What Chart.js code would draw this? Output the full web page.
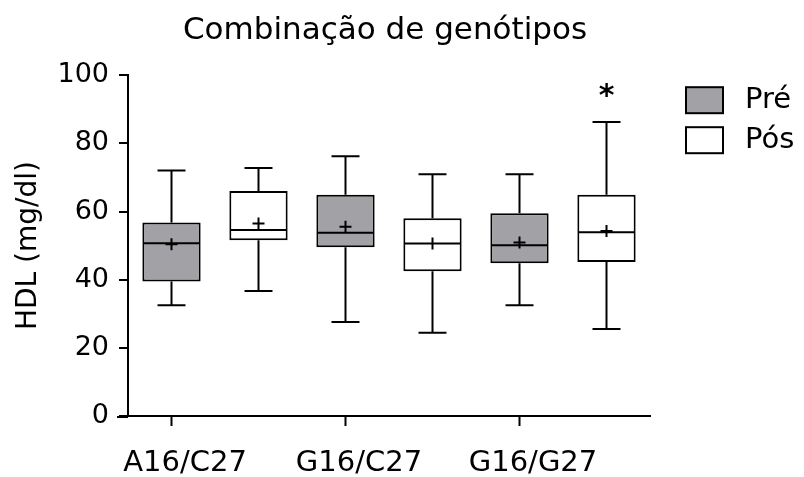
<!DOCTYPE html>
<html>
<head>
<meta charset="utf-8">
<title>Combinação de genótipos</title>
<script src="https://cdn.jsdelivr.net/npm/chart.js@4/dist/chart.umd.min.js"></script>
<style>
  html, body { margin: 0; padding: 0; background: #fff; }
  #wrap { width: 804px; height: 477px; }
</style>
</head>
<body>
<div id="wrap"><canvas id="chart" width="804" height="477"></canvas></div>
<script>
const categories = ['A16/C27', 'G16/C27', 'G16/G27'];

// Pré
const preMin = [32.5, 27.6, 32.5];
const preQ1 = [39.5, 49.5, 44.8];
const preMedian = [50.7, 53.8, 50.1];
const preQ3 = [56.8, 64.9, 59.5];
const preMax = [72.0, 76.2, 70.9];
const preMean = [50.4, 55.5, 50.9];

// Pós
const posMin = [36.7, 24.4, 25.5];
const posQ1 = [51.6, 42.5, 45.2];
const posMedian = [54.6, 50.6, 53.9];
const posQ3 = [66.0, 58.0, 64.9];
const posMax = [72.8, 70.9, 86.3];
const posMean = [56.5, 50.6, 54.3];

// significance mark above G16/G27 Pós
const starLabel = '*';
const starValue = 95;
const starIndex = 2;

const yMin = 0, yMax = 100, yStep = 20;

const FONT = 'DejaVu Sans';
const GREY = '#a2a2a6';

const boxes = (q1, q3) => q1.map((v, i) => [v, q3[i]]);

// whiskers, medians, means, x ticks, star and legend
const boxPlugin = {
  id: 'boxPlot',
  afterDatasetsDraw(chart) {
    const ctx = chart.ctx;
    const y = chart.scales.y;
    const area = chart.chartArea;
    ctx.save();
    ctx.strokeStyle = '#000';
    ctx.lineWidth = 2;
    chart.data.datasets.forEach((ds, di) => {
      const meta = chart.getDatasetMeta(di);
      meta.data.forEach((bar, i) => {
        const { x, width } = bar.getProps(['x', 'width'], true);
        const half = width / 2;
        const cap = width * 0.24;
        const st = ds.stats;
        const yq1 = y.getPixelForValue(ds.data[i][0]);
        const yq3 = y.getPixelForValue(ds.data[i][1]);
        const ymin = y.getPixelForValue(st.min[i]);
        const ymax = y.getPixelForValue(st.max[i]);
        const ymed = y.getPixelForValue(st.median[i]);
        const ymean = y.getPixelForValue(st.mean[i]);
        ctx.beginPath();
        // whiskers
        ctx.moveTo(x, yq3); ctx.lineTo(x, ymax);
        ctx.moveTo(x - cap, ymax); ctx.lineTo(x + cap, ymax);
        ctx.moveTo(x, yq1); ctx.lineTo(x, ymin);
        ctx.moveTo(x - cap, ymin); ctx.lineTo(x + cap, ymin);
        // median
        ctx.moveTo(x - half + 1, ymed); ctx.lineTo(x + half - 1, ymed);
        // mean (+)
        ctx.moveTo(x - 6, ymean); ctx.lineTo(x + 6, ymean);
        ctx.moveTo(x, ymean - 6); ctx.lineTo(x, ymean + 6);
        ctx.stroke();
      });
    });

    // x tick marks under the Pré boxes, axis line runs a bit past the y axis
    const pre = chart.getDatasetMeta(0);
    ctx.beginPath();
    pre.data.forEach(bar => {
      ctx.moveTo(bar.x, area.bottom);
      ctx.lineTo(bar.x, area.bottom + 10);
    });
    ctx.moveTo(area.left - 11, area.bottom + 1);
    ctx.lineTo(area.left, area.bottom + 1);
    ctx.stroke();

    // star
    const pos = chart.getDatasetMeta(1);
    ctx.fillStyle = '#000';
    ctx.font = 'bold 30px ' + FONT;
    ctx.textAlign = 'center';
    ctx.textBaseline = 'alphabetic';
    ctx.fillText(starLabel, pos.data[starIndex].x, y.getPixelForValue(starValue) + 13);

    // legend
    ctx.font = '29px ' + FONT;
    ctx.textAlign = 'left';
    ctx.textBaseline = 'middle';
    chart.data.datasets.forEach((ds, di) => {
      const bx = area.right + 36;
      const by = area.top + 12 + di * 40;
      ctx.fillStyle = ds.backgroundColor;
      ctx.fillRect(bx, by, 37, 26);
      ctx.strokeRect(bx, by, 37, 26);
      ctx.fillStyle = '#000';
      ctx.fillText(ds.label, bx + 59, by + 13);
    });
    ctx.restore();
  }
};

Chart.defaults.color = '#000';
Chart.defaults.font.family = FONT;

new Chart(document.getElementById('chart'), {
  type: 'bar',
  data: {
    labels: categories,
    datasets: [
      {
        label: 'Pré',
        data: boxes(preQ1, preQ3),
        stats: { min: preMin, median: preMedian, max: preMax, mean: preMean },
        backgroundColor: GREY,
        borderColor: '#000',
        borderWidth: 2,
        borderSkipped: false,
        categoryPercentage: 1,
        barPercentage: 0.67
      },
      {
        label: 'Pós',
        data: boxes(posQ1, posQ3),
        stats: { min: posMin, median: posMedian, max: posMax, mean: posMean },
        backgroundColor: '#ffffff',
        borderColor: '#000',
        borderWidth: 2,
        borderSkipped: false,
        categoryPercentage: 1,
        barPercentage: 0.67
      }
    ]
  },
  options: {
    responsive: false,
    animation: false,
    layout: { padding: { top: 0, right: 34, bottom: 0, left: 0 } },
    plugins: {
      legend: { display: false },
      tooltip: { enabled: false },
      title: {
        display: true,
        text: 'Combinação de genótipos',
        font: { size: 31, weight: 'normal' },
        padding: { top: 12, bottom: 26 }
      }
    },
    scales: {
      x: {
        grid: { display: false, drawTicks: false },
        border: { display: true, color: '#000', width: 2 },
        ticks: { font: { size: 29 }, padding: 30, labelOffset: -30, maxRotation: 0 },
        afterFit: s => { s.height = 61; }
      },
      y: {
        min: yMin,
        max: yMax,
        ticks: { stepSize: yStep, font: { size: 27 }, padding: 10 },
        grid: { display: true, drawOnChartArea: false, tickLength: 9, color: '#000', lineWidth: 2 },
        border: { display: true, color: '#000', width: 2 },
        title: {
          display: true,
          text: 'HDL (mg/dl)',
          font: { size: 28 },
          padding: { top: 12, bottom: 0 }
        },
        afterFit: s => { s.width = 128; }
      },
      // empty right-hand strip that holds the legend
      legendSpace: {
        type: 'linear',
        axis: 'y',
        position: 'right',
        grid: { display: false },
        border: { display: false },
        ticks: { display: false },
        afterFit: s => { s.width = 120; }
      }
    }
  },
  plugins: [boxPlugin]
});
</script>
</body>
</html>
